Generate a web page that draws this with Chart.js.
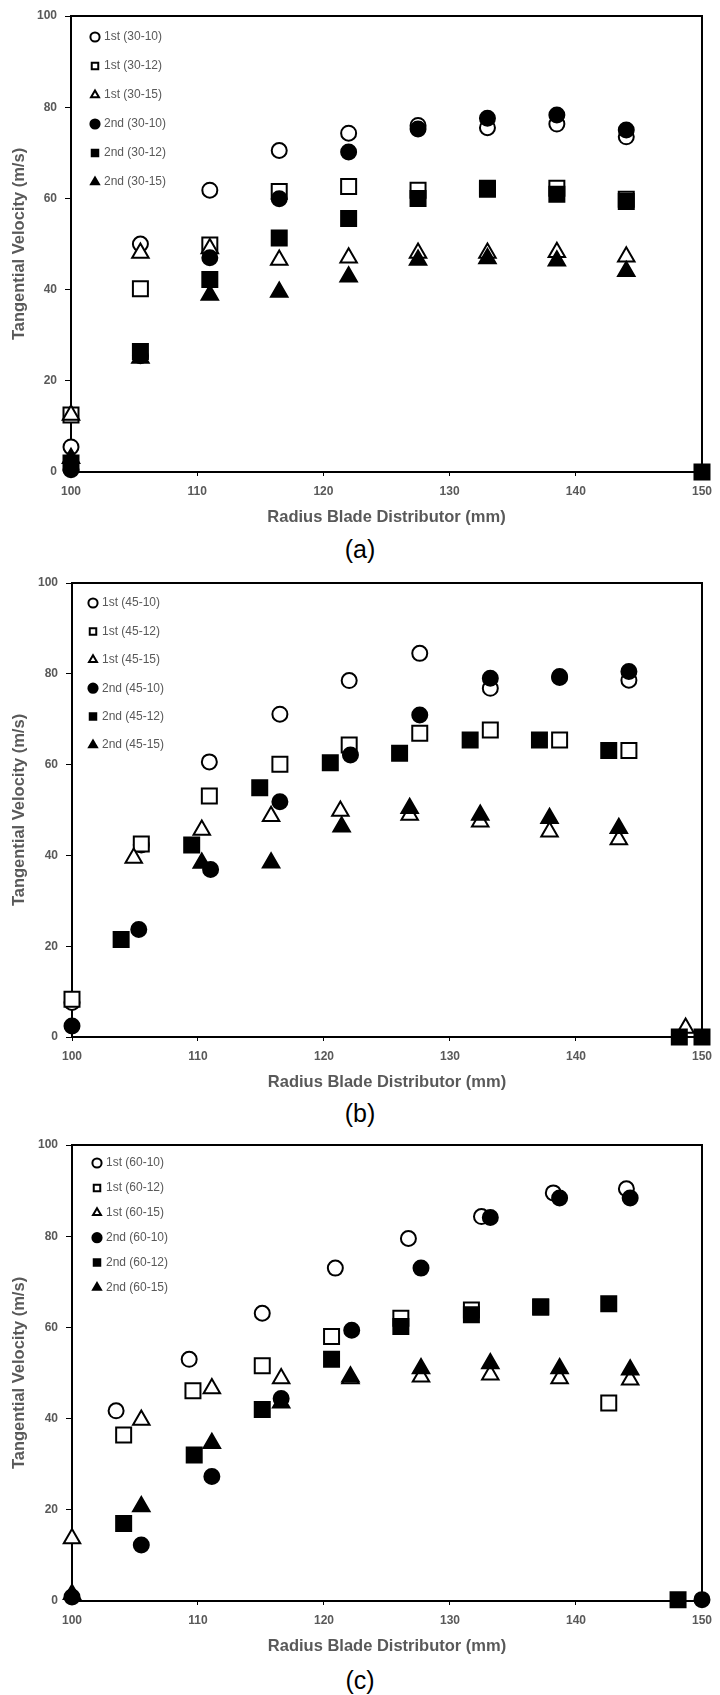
<!DOCTYPE html>
<html>
<head>
<meta charset="utf-8">
<script src="https://cdn.jsdelivr.net/npm/chart.js@4.4.0/dist/chart.umd.min.js"></script>
<style>
  body { margin: 0; background: #fff; }
  .page { position: relative; width: 720px; height: 1695px; }
  canvas { position: absolute; left: 0; }
  .tag { position: absolute; left: 0; width: 720px; text-align: center; font: 25px "Liberation Sans", Arial, sans-serif; line-height: 28px; color: #000; }
</style>
</head>
<body>
<div class="page">
  <canvas id="chartA" width="720" height="532" style="top:0px"></canvas>
  <div class="tag" style="top:535px">(a)</div>
  <canvas id="chartB" width="720" height="530" style="top:567px"></canvas>
  <div class="tag" style="top:1099px">(b)</div>
  <canvas id="chartC" width="720" height="532" style="top:1129px"></canvas>
  <div class="tag" style="top:1666px">(c)</div>
</div>
<script>
// chart (a): 30 series, [radius mm, velocity m/s]
const labelsA = ['1st (30-10)', '1st (30-12)', '1st (30-15)', '2nd (30-10)', '2nd (30-12)', '2nd (30-15)'];
const a1_10 = [[100, 5.5], [105.5, 50.0], [111, 61.8], [116.5, 70.5], [122, 74.3], [127.5, 76.0], [133, 75.5], [138.5, 76.3], [144, 73.5]];
const a1_12 = [[100, 12.5], [105.5, 40.2], [111, 49.8], [116.5, 61.5], [122, 62.6], [127.5, 61.8], [133, 62.2], [138.5, 62.2], [144, 59.8]];
const a1_15 = [[100, 12.5], [105.5, 48.0], [111, 49.0], [116.5, 46.5], [122, 47.0], [127.5, 48.0], [133, 48.0], [138.5, 48.2], [144, 47.2]];
const a2_10 = [[100, 0.5], [105.5, 25.5], [111, 47.0], [116.5, 59.9], [122, 70.2], [127.5, 75.2], [133, 77.6], [138.5, 78.3], [144, 75.0]];
const a2_12 = [[100, 2.0], [105.5, 26.4], [111, 42.2], [116.5, 51.3], [122, 55.6], [127.5, 60.0], [133, 62.0], [138.5, 60.9], [144, 59.3], [150, 0]];
const a2_15 = [[100, 3.0], [105.5, 25.0], [111, 38.8], [116.5, 39.5], [122, 42.8], [127.5, 46.5], [133, 46.8], [138.5, 46.3], [144, 44.0]];

// chart (b): 45 series
const labelsB = ['1st (45-10)', '1st (45-12)', '1st (45-15)', '2nd (45-10)', '2nd (45-12)', '2nd (45-15)'];
const b1_10 = [[100, 7.6], [105.5, 42.3], [110.9, 60.6], [116.5, 71.1], [122, 78.5], [127.6, 84.5], [133.2, 76.8], [138.7, 79.2], [144.2, 78.6]];
const b1_12 = [[100, 8.3], [105.5, 42.5], [110.9, 53.1], [116.5, 60.1], [122, 64.3], [127.6, 66.9], [133.2, 67.6], [138.7, 65.4], [144.2, 63.1]];
const b1_15 = [[104.9, 39.4], [110.3, 45.6], [115.8, 48.6], [121.3, 49.8], [126.8, 48.9], [132.4, 47.4], [137.9, 45.2], [143.4, 43.5], [148.7, 2.0]];
const b2_10 = [[100, 2.4], [105.3, 23.7], [111, 36.9], [116.5, 51.8], [122.1, 62.1], [127.6, 70.9], [133.2, 79.0], [138.7, 79.4], [144.2, 80.5]];
const b2_12 = [[103.9, 21.5], [109.5, 42.3], [114.9, 54.9], [120.5, 60.4], [126, 62.5], [131.6, 65.4], [137.1, 65.4], [142.6, 63.1], [148.2, 0], [150, 0]];
const b2_15 = [[110.3, 38.3], [115.8, 38.4], [121.4, 46.3], [126.8, 50.4], [132.4, 48.9], [137.9, 48.2], [143.4, 46.0]];

// chart (c): 60 series
const labelsC = ['1st (60-10)', '1st (60-12)', '1st (60-15)', '2nd (60-10)', '2nd (60-12)', '2nd (60-15)'];
const c1_10 = [[103.5, 41.7], [109.3, 53.0], [115.1, 63.1], [120.9, 73.0], [126.7, 79.5], [132.5, 84.3], [138.2, 89.5], [144.0, 90.4]];
const c1_12 = [[104.1, 36.4], [109.6, 46.1], [115.1, 51.6], [120.6, 58.0], [126.1, 62.0], [131.7, 63.8], [137.2, 64.5], [142.6, 43.4]];
const c1_15 = [[100, 13.7], [105.5, 39.7], [111.1, 46.6], [116.6, 48.8], [122.1, 48.8], [127.7, 49.2], [133.2, 49.6], [138.7, 48.8], [144.3, 48.5]];
const c2_10 = [[100, 0.9], [105.5, 12.3], [111.1, 27.3], [116.6, 44.4], [122.2, 59.4], [127.7, 73.0], [133.2, 84.1], [138.7, 88.4], [144.3, 88.4], [150, 0.3]];
const c2_12 = [[104.1, 17.0], [109.7, 32.0], [115.1, 42.0], [120.6, 53.0], [126.1, 60.2], [131.7, 62.8], [137.2, 64.5], [142.6, 65.2], [148.1, 0.3]];
const c2_15 = [[100, 1.5], [105.5, 20.7], [111.1, 34.6], [116.6, 43.5], [122.1, 49.2], [127.7, 51.0], [133.2, 52.1], [138.7, 51.0], [144.3, 50.7]];

const xTicks = [100, 110, 120, 130, 140, 150];
const yTicks = [0, 20, 40, 60, 80, 100];

const GREY = '#595959';
const FONT = '"Liberation Sans", Arial, sans-serif';

// open markers first, filled ones drawn over them (like the Excel original)
const markers = [
  { pointStyle: 'circle', radius: 7.5, fill: '#fff' },
  { pointStyle: 'rect', radius: 10.6, fill: '#fff' },
  { pointStyle: 'triangle', radius: 9.5, fill: '#fff' },
  { pointStyle: 'circle', radius: 7.5, fill: '#000' },
  { pointStyle: 'rect', radius: 10.6, fill: '#000' },
  { pointStyle: 'triangle', radius: 9.5, fill: '#000' }
];

const framePlugin = {
  id: 'frame',
  beforeDatasetsDraw(chart) {
    const { ctx, chartArea: a } = chart;
    ctx.save();
    ctx.strokeStyle = '#000';
    ctx.lineWidth = 2;
    ctx.strokeRect(a.left, a.top, a.right - a.left, a.bottom - a.top);
    ctx.restore();
  }
};

// lg: legend row spacing padding, first row offset and marker x offset inside the plot
function makeChart(id, names, series, left, right, lg) {
  const ctx = document.getElementById(id).getContext('2d');
  const legendPlace = {
    id: 'legendPlace',
    afterLayout(chart) {
      const l = chart.legend, a = chart.chartArea;
      l.left = a.left + lg.mx - lg.pad - 3;
      l.top = a.top + lg.row0 - lg.pad - 6;
      l.bottom = a.bottom;
    }
  };
  return new Chart(ctx, {
    type: 'scatter',
    data: {
      datasets: series.map((pts, i) => ({
        label: names[i],
        data: pts.map(p => ({ x: p[0], y: p[1] })),
        pointStyle: markers[i].pointStyle,
        pointRadius: markers[i].radius,
        pointHoverRadius: markers[i].radius,
        pointBackgroundColor: markers[i].fill,
        pointBorderColor: '#000',
        pointBorderWidth: 2,
        backgroundColor: markers[i].fill,
        borderColor: '#000',
        borderWidth: 2,
        showLine: false,
        clip: false,
        order: series.length - 1 - i
      }))
    },
    options: {
      responsive: false,
      animation: false,
      devicePixelRatio: 1,
      layout: { padding: { left: 0, top: 16, right: 720 - right, bottom: 0 } },
      plugins: {
        tooltip: { enabled: false },
        legend: {
          position: 'chartArea',
          align: 'start',
          labels: {
            usePointStyle: true,
            boxWidth: 6,
            boxHeight: 6.5,
            padding: lg.pad,
            color: GREY,
            font: { family: FONT, size: 12 },
            sort: (a, b) => a.datasetIndex - b.datasetIndex
          }
        }
      },
      scales: {
        x: {
          type: 'linear',
          min: 100,
          max: 150,
          afterBuildTicks: s => { s.ticks = xTicks.map(v => ({ value: v })); },
          afterFit: s => { s.height = 60; },
          border: { color: '#000', width: 2 },
          grid: { drawOnChartArea: false, drawTicks: true, tickLength: 4, color: '#000' },
          ticks: { color: GREY, padding: 8, font: { family: FONT, size: 12, weight: 'bold' } },
          title: {
            display: true,
            text: 'Radius Blade Distributor (mm)',
            color: GREY,
            font: { family: FONT, size: 16.5, weight: 'bold' },
            padding: { top: 0, bottom: 5 }
          }
        },
        y: {
          type: 'linear',
          min: 0,
          max: 100,
          afterBuildTicks: s => { s.ticks = yTicks.map(v => ({ value: v })); },
          afterFit: s => { s.width = left; },
          border: { color: '#000', width: 2 },
          grid: { drawOnChartArea: false, drawTicks: true, tickLength: 6, color: '#000' },
          ticks: { color: GREY, padding: 8, font: { family: FONT, size: 12, weight: 'bold' } },
          title: {
            display: true,
            text: 'Tangential Velocity (m/s)',
            color: GREY,
            font: { family: FONT, size: 16.5, weight: 'bold' },
            padding: { top: 10, bottom: 0 }
          }
        }
      }
    },
    plugins: [framePlugin, legendPlace]
  });
}

makeChart('chartA', labelsA, [a1_10, a1_12, a1_15, a2_10, a2_12, a2_15], 71, 706, { pad: 17, row0: 21, mx: 24 });
makeChart('chartB', labelsB, [b1_10, b1_12, b1_15, b2_10, b2_12, b2_15], 72, 702, { pad: 16.4, row0: 20, mx: 21 });
makeChart('chartC', labelsC, [c1_10, c1_12, c1_15, c2_10, c2_12, c2_15], 72, 704, { pad: 12.9, row0: 18, mx: 25 });
</script>
</body>
</html>
